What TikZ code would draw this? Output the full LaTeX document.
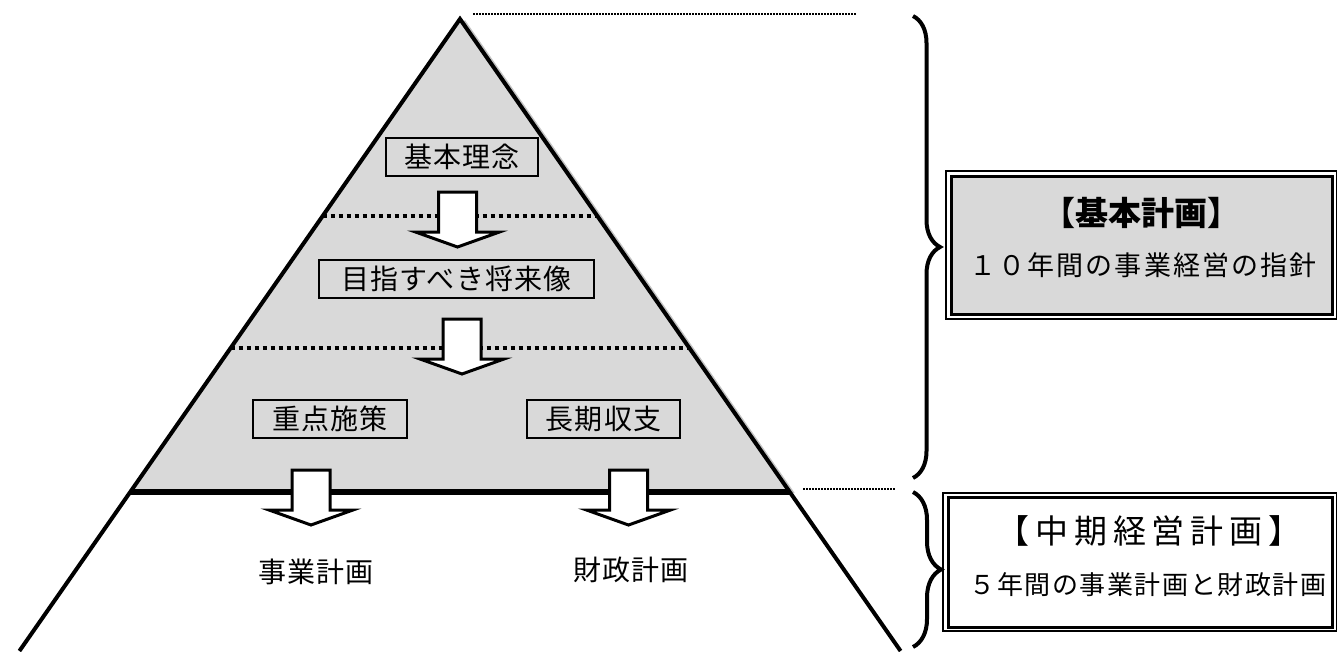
\documentclass[tikz,border=0pt]{standalone}
\usepackage{fontspec}
\newfontfamily\jp{Noto Sans CJK JP}
\usetikzlibrary{decorations.pathreplacing,calc}
\definecolor{pyrgray}{HTML}{D9D9D9}
\definecolor{shadowgray}{HTML}{C4C4C4}
\tikzset{
  pyrtext/.style={font=\jp\fontsize{28}{30}\selectfont\addfontfeatures{LetterSpace=4}, inner sep=0},
  pyrbox/.style={pyrtext, draw, line width=2.2, fill=pyrgray, minimum height=38, inner sep=0},
  innerdot/.style={line width=3.2, dash pattern=on 4 off 4},
  outerdot/.style={line width=1.6, dash pattern=on 1.5 off 1.5},
  bracestyle/.style={line width=4, decorate},
  outerframe/.style={draw, line width=1.6, inner sep=0},
  innerframe/.style={draw, line width=3, inner sep=0},
  blockarrow/.pic={
    \draw[line width=3, fill=white, line join=miter]
      (-19,0) -- (19,0) -- (19,40) -- (42,40) -- (0,55) -- (-42,40) -- (-19,40) -- cycle;
  }
}
\begin{document}
\begin{tikzpicture}[x=1pt,y=-1pt,line join=miter]
\useasboundingbox (0,0) rectangle (1337,651);
\coordinate (apex) at (460,19);
\coordinate (bl) at (19.4,651);
\coordinate (br) at (900.6,651);
\coordinate (ml) at (130.3,492);
\coordinate (mr) at (789.7,492);
% shadow and fill
\fill[shadowgray] ($(apex)+(5,1)$) -- ($(ml)+(5,1)$) -- ($(mr)+(5,1)$) -- cycle;
\fill[pyrgray] (apex) -- (ml) -- (mr) -- cycle;
% inner dotted lines
\draw[innerdot] ($(apex)!0.4165!(ml)$) -- ($(apex)!0.4165!(mr)$);
\draw[innerdot] ($(apex)!0.6956!(ml)$) -- ($(apex)!0.6956!(mr)$);
% outer dotted leaders
\coordinate (topend) at (856,14);
\coordinate (topstart) at (473,14);
\draw[outerdot] (topstart) -- (topend);
\coordinate (midstart) at (803,489);
\coordinate (midend) at (896,489);
\draw[outerdot] (midstart) -- (midend);
% boxes in pyramid
\node[pyrbox, minimum width=152] (kihon) at (462,157) {基本理念};
\node[pyrbox, minimum width=275] (mezasu) at (456.5,279) {目指すべき将来像};
\node[pyrbox, minimum width=154] (juten) at (330,419) {重点施策};
\node[pyrbox, minimum width=153] (choki) at (603.5,419) {長期収支};
% thick separator
\draw[line width=6] (ml) -- (mr);
% block arrows
\pic at (457.5,192) {blockarrow};
\pic at (462,319) {blockarrow};
\pic at (311,470) {blockarrow};
\pic at (628.5,470) {blockarrow};
% triangle outline
\draw[line width=4] (bl) -- (apex) -- (br);
% lower texts
\node[pyrtext] (jigyo) at (316,572) {事業計画};
\node[pyrtext] (zaisei) at (631,570) {財政計画};
% braces
\draw[bracestyle, decoration={brace, amplitude=27}] (913,16) -- (913,478);
\draw[bracestyle, decoration={brace, amplitude=28}] (913,492) -- (913,647);
% right boxes
\node[outerframe, minimum width=390.5, minimum height=148] (kouter) at (1141.25,245) {};
\node[innerframe, fill=pyrgray, minimum width=381, minimum height=138.5] (kinner) at (1141.5,245.25) {};
\node[font=\jp\bfseries\fontsize{33}{36}\selectfont, inner sep=0] (ktitle) at (1141,213) {【基本計画】};
\node[font=\jp\fontsize{27}{30}\selectfont\addfontfeatures{LetterSpace=8}, inner sep=0] (ksub) at (1143,265) {１０年間の事業経営の指針};
\node[outerframe, minimum width=393.5, minimum height=138] (couter) at (1139.75,562) {};
\node[innerframe, minimum width=384.5, minimum height=129.5] (cinner) at (1140.25,562.25) {};
\node[font=\jp\fontsize{33}{36}\selectfont\addfontfeatures{LetterSpace=18}, inner sep=0] (ctitle) at (1149,531) {【中期経営計画】};
\node[font=\jp\fontsize{26}{28}\selectfont\addfontfeatures{LetterSpace=6}, inner sep=0] (csub) at (1148,585) {５年間の事業計画と財政計画};
\end{tikzpicture}
\end{document}
